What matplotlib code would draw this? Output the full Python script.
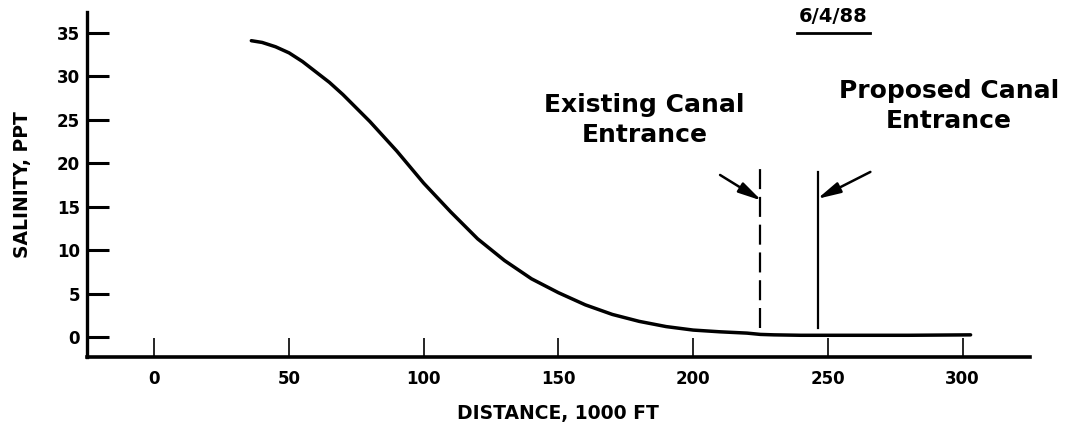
import numpy as np
import matplotlib
matplotlib.use("Agg")
import matplotlib.pyplot as plt

# Salinity profile along the channel, 6/4/88
distance = [36, 40, 45, 50, 55, 60, 65, 70, 80, 90, 100, 110, 120, 130, 140,
            150, 160, 170, 180, 190, 200, 210, 220, 225, 230, 240, 250, 260,
            280, 303]
salinity = [34.1, 33.9, 33.4, 32.7, 31.7, 30.5, 29.3, 27.9, 24.8, 21.4, 17.7,
            14.4, 11.3, 8.8, 6.7, 5.1, 3.7, 2.6, 1.8, 1.2, 0.8, 0.6, 0.45, 0.3,
            0.25, 0.2, 0.2, 0.2, 0.2, 0.25]

# Canal entrances: (distance, bottom, top)
existing_x, existing_y0, existing_y1 = 225, 1.0, 20.0
proposed_x, proposed_y0, proposed_y1 = 246.5, 1.0, 19.0

xticks = [0, 50, 100, 150, 200, 250, 300]
yticks = [0, 5, 10, 15, 20, 25, 30, 35]

fig = plt.figure(figsize=(10.65, 4.34), dpi=100)
ax = fig.add_axes([0.0817, 0.1774, 0.8853, 0.7949])

ax.plot(distance, salinity, color="black", lw=2.5, solid_capstyle="round",
        solid_joinstyle="round")

# entrance markers
ax.plot([existing_x, existing_x], [existing_y0, existing_y1], color="black",
        lw=1.6, dashes=(9, 3.5))
ax.plot([proposed_x, proposed_x], [proposed_y0, proposed_y1], color="black",
        lw=1.6)

arrow = dict(arrowstyle="-|>,head_length=1.0,head_width=0.24",
             color="black", lw=1.8, shrinkA=0, shrinkB=0, mutation_scale=14)
ax.annotate("", xy=(existing_x + 0.4, 15.7), xytext=(210, 18.65),
            arrowprops=arrow)
ax.annotate("", xy=(proposed_x - 0.4, 15.9), xytext=(265.8, 19.0),
            arrowprops=arrow)

label_font = dict(family="DejaVu Sans", fontweight="bold", fontsize=18)
ax.text(182, 25.0, "Existing Canal\nEntrance", ha="center", va="center",
        linespacing=1.3, **label_font)
ax.text(295, 26.6, "Proposed Canal\nEntrance", ha="center", va="center",
        linespacing=1.3, **label_font)

# date stamp with underline
ax.text(252, 36.9, "6/4/88", ha="center", va="center",
        fontsize=14, fontweight="bold", family="DejaVu Sans")
ax.plot([238.7, 265.8], [35.0, 35.0], color="black", lw=2, clip_on=False)

ax.set_xlim(-25, 325)
ax.set_ylim(-2.3, 37.4)
ax.set_xticks(xticks)
ax.set_yticks(yticks)

for side in ["top", "right"]:
    ax.spines[side].set_visible(False)
ax.spines["left"].set_linewidth(2.4)
ax.spines["bottom"].set_linewidth(2.6)

ax.tick_params(axis="y", direction="in", length=16, width=2.2, pad=5,
               labelsize=12)
ax.tick_params(axis="x", direction="in", length=14, width=1.2, pad=9,
               labelsize=12)
for lbl in ax.get_xticklabels() + ax.get_yticklabels():
    lbl.set_fontweight("bold")

ax.set_xlabel("DISTANCE, 1000 FT", fontsize=13.5, fontweight="bold",
              labelpad=12)
ax.set_ylabel("SALINITY, PPT", fontsize=13.5, fontweight="bold", labelpad=18)

fig.savefig("out.png", dpi=100)
